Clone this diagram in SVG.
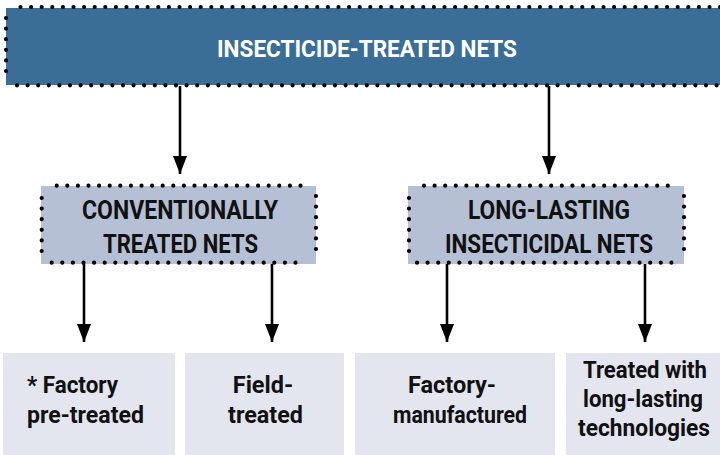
<svg xmlns="http://www.w3.org/2000/svg" width="720" height="455" viewBox="0 0 720 455">
<style>
.dots{fill:none;stroke:#000;stroke-width:4.2;stroke-linecap:round;stroke-dasharray:0 10.6}
.top{fill:#3a6e96}
.mid{fill:#b5c0d4}
.leaf{fill:#e3e6ee}
.t{font-family:Roboto,"Liberation Sans",Arial,sans-serif;font-weight:bold;text-anchor:middle}
.tw{fill:#ffffff;font-size:24px}
.tm{fill:#111;font-size:25px}
.tb{fill:#111;font-size:23.5px}
.arrow{stroke:#000;stroke-width:2.6;fill:none;marker-end:url(#ah)}
</style>
<defs>
<marker id="ah" markerUnits="userSpaceOnUse" viewBox="0 0 18 14" refX="18" refY="7" markerWidth="18" markerHeight="14" orient="auto">
<path d="M0,0 L18,7 L0,14 z" fill="#000"/>
</marker>
</defs>
<rect width="720" height="455" fill="#fff"/>

<g id="connectors">
<line class="arrow" x1="180" y1="86" x2="180" y2="174"/>
<line class="arrow" x1="549" y1="86" x2="549" y2="174"/>
<line class="arrow" x1="84" y1="263" x2="84" y2="342"/>
<line class="arrow" x1="272" y1="263" x2="272" y2="342"/>
<line class="arrow" x1="447" y1="263" x2="447" y2="342"/>
<line class="arrow" x1="645" y1="263" x2="645" y2="342"/>
</g>

<g id="node-itn">
<rect class="top" x="6" y="8" width="714" height="77"/>
<line class="dots" x1="20.5" y1="7" x2="722" y2="7"/>
<line class="dots" x1="17" y1="85.3" x2="722" y2="85.3"/>
<line class="dots" x1="6" y1="18" x2="6" y2="76"/>
<text class="t tw" x="367" y="57" textLength="300" lengthAdjust="spacingAndGlyphs">INSECTICIDE-TREATED NETS</text>
</g>

<g id="node-ctn">
<rect class="mid" x="41" y="186" width="275" height="78"/>
<line class="dots" x1="56.7" y1="185.7" x2="310" y2="185.7"/>
<line class="dots" x1="51.7" y1="262.7" x2="306" y2="262.7"/>
<line class="dots" x1="41.7" y1="198" x2="41.7" y2="256"/>
<line class="dots" x1="316" y1="196" x2="316" y2="254"/>
<text class="t tm" x="180" y="218.5" textLength="196" lengthAdjust="spacingAndGlyphs">CONVENTIONALLY</text>
<text class="t tm" x="180.5" y="252.5" textLength="155" lengthAdjust="spacingAndGlyphs">TREATED NETS</text>
</g>

<g id="node-llin">
<rect class="mid" x="408" y="186" width="276" height="78"/>
<line class="dots" x1="424" y1="185.7" x2="676" y2="185.7"/>
<line class="dots" x1="417" y1="262.7" x2="672" y2="262.7"/>
<line class="dots" x1="409" y1="198" x2="409" y2="256"/>
<line class="dots" x1="684" y1="196" x2="684" y2="254"/>
<text class="t tm" x="549" y="218.5" textLength="162" lengthAdjust="spacingAndGlyphs">LONG-LASTING</text>
<text class="t tm" x="549" y="252.5" textLength="208" lengthAdjust="spacingAndGlyphs">INSECTICIDAL NETS</text>
</g>

<g id="node-factory-pretreated">
<rect class="leaf" x="3" y="353" width="172" height="102"/>
<text class="t tb" x="27" y="393" style="text-anchor:start" textLength="91" lengthAdjust="spacingAndGlyphs">* Factory</text>
<text class="t tb" x="27" y="423" style="text-anchor:start" textLength="117" lengthAdjust="spacingAndGlyphs">pre-treated</text>
</g>

<g id="node-field-treated">
<rect class="leaf" x="185" y="353" width="159" height="102"/>
<text class="t tb" x="263" y="393">Field-</text>
<text class="t tb" x="265.5" y="423" textLength="75" lengthAdjust="spacingAndGlyphs">treated</text>
</g>

<g id="node-factory-manufactured">
<rect class="leaf" x="355" y="353" width="200" height="102"/>
<text class="t tb" x="452" y="393">Factory-</text>
<text class="t tb" x="460" y="423" textLength="134" lengthAdjust="spacingAndGlyphs">manufactured</text>
</g>

<g id="node-long-lasting-tech">
<rect class="leaf" x="566" y="353" width="154" height="102"/>
<text class="t tb" x="645" y="378" textLength="124" lengthAdjust="spacingAndGlyphs">Treated with</text>
<text class="t tb" x="643" y="407" textLength="120" lengthAdjust="spacingAndGlyphs">long-lasting</text>
<text class="t tb" x="644" y="436" textLength="132" lengthAdjust="spacingAndGlyphs">technologies</text>
</g>
</svg>
